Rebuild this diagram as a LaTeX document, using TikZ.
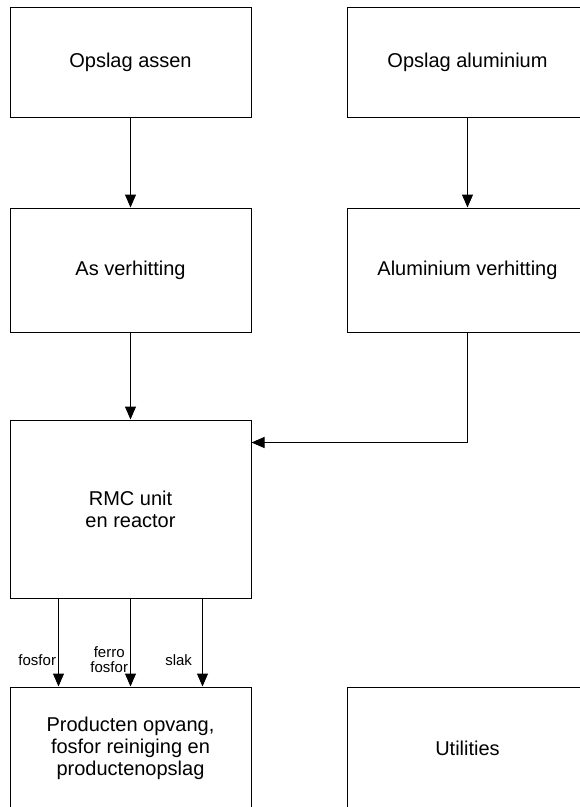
\documentclass[tikz,border=0pt]{standalone}
\usepackage{fontspec}
\setmainfont{Liberation Sans}
\usetikzlibrary{arrows.meta,positioning}

\begin{document}
\begin{tikzpicture}[x=1pt,y=1pt,node distance=208pt,on grid,line width=1pt,
    >={Triangle[length=13pt,width=11pt]},
    blok/.style={draw,minimum width=241pt,inner sep=0pt,align=center,font=\fontsize{20}{22}\selectfont},
    stroom/.style={font=\fontsize{15}{15}\selectfont,align=center,inner sep=2pt}]

  \useasboundingbox (0,0) rectangle (580,-807);

  \node[blok,minimum height=110pt]  (assen)                          at (130.5,-62) {Opslag assen};
  \node[blok,minimum height=110pt]  (alu)     [right=337pt of assen]  {Opslag aluminium};
  \node[blok,minimum height=124pt]  (asverh)  [below=208pt of assen]  {As verhitting};
  \node[blok,minimum height=124pt]  (aluverh) [right=337pt of asverh] {Aluminium verhitting};
  \node[blok,minimum height=178pt]  (rmc)     [below=239pt of asverh] {RMC unit\\en reactor};
  \node[blok,minimum height=122pt]  (prod)    [below=239pt of rmc]    {Producten opvang,\\fosfor reiniging en\\productenopslag};
  \node[blok,minimum height=122pt]  (util)    [right=337pt of prod]   {Utilities};

  \coordinate (rmcin) at ([yshift=-23pt]rmc.north east);

  \path[->]
    (assen)   edge (asverh)
    (alu)     edge (aluverh)
    (asverh)  edge (rmc)
    ([xshift=-72pt]rmc.south) edge node[stroom,left,pos=0.7] {fosfor} ([xshift=-72pt]prod.north)
    (rmc)     edge node[stroom,left,pos=0.7] {ferro\\fosfor} (prod)
    ([xshift=72pt]rmc.south)  edge node[stroom,left,pos=0.7,xshift=-8pt] {slak} ([xshift=72pt]prod.north)
  ;
  \draw[->] (aluverh.south) |- (rmcin);

\end{tikzpicture}
\end{document}
